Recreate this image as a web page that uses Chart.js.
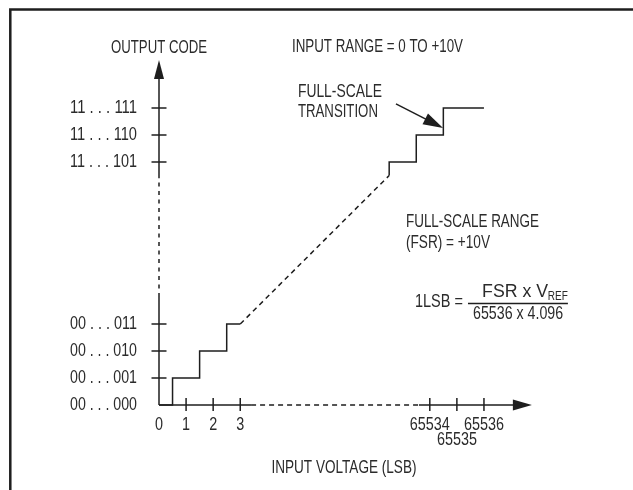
<!DOCTYPE html>
<html>
<head>
<meta charset="utf-8">
<script src="https://cdn.jsdelivr.net/npm/chart.js@4"></script>
<style>
  html, body { margin: 0; padding: 0; background: #fff; }
  #chart { display: block; }
</style>
</head>
<body>
<canvas id="chart" width="633" height="490"></canvas>
<script>
// transfer function values, in axis steps (1 step = 1 LSB / 1 code)
const xTickValues = [0, 1, 2, 3, 10, 11, 12];
const xTickLabels = ['0', '1', '2', '3', '65534', '65535', '65536'];
const xTickRows = [0, 0, 0, 0, 0, 1, 0];
const yTickValues = [0, 1, 2, 3, 9, 10, 11];
const yTickLabels = ['00 . . . 000', '00 . . . 001', '00 . . . 010', '00 . . . 011', '11 . . . 101', '11 . . . 110', '11 . . . 111'];

const lowSteps = [{x: 0, y: 0}, {x: 0.5, y: 1}, {x: 1.5, y: 2}, {x: 2.5, y: 3}, {x: 3, y: 3}];
const highSteps = [{x: 8.5, y: 8.5}, {x: 8.5, y: 9}, {x: 9.5, y: 10}, {x: 10.5, y: 11}, {x: 12, y: 11}];
const ramp = [{x: 3, y: 3}, {x: 8.5, y: 8.5}];

const yAxisSolidLow = [{x: 0, y: 0}, {x: 0, y: 4}];
const yAxisDashed = [{x: 0, y: 4}, {x: 0, y: 8.4}];
const yAxisSolidHigh = [{x: 0, y: 8.4}, {x: 0, y: 12.1}];
const xAxisSolidLow = [{x: 0, y: 0}, {x: 3.4, y: 0}];
const xAxisDashed = [{x: 3.4, y: 0}, {x: 9.6, y: 0}];
const xAxisSolidHigh = [{x: 9.6, y: 0}, {x: 13.1, y: 0}];

const yArrowTip = {x: 0, y: 12.78};
const xArrowTip = {x: 13.77, y: 0};
const transitionArrow = [{x: 8.75, y: 11.15}, {x: 10.49, y: 10.26}];

// placement of the diagram on the canvas
const X_ORIGIN = 159, X_UNIT = 27.08, Y_ORIGIN = 405, Y_UNIT = 27;
const W = 633, H = 490;
const INK = '#1e1e1e';
const TEXT = '#2b2b2b';
const FONT = '"Liberation Sans Narrow", "Liberation Sans", sans-serif';

const notes = [
    {text: 'OUTPUT CODE', x: 0, y: 13.21, align: 'center', w: 96},
    {text: 'INPUT RANGE = 0 TO +10V', x: 4.91, y: 13.27, align: 'left', w: 171},
    {text: 'FULL-SCALE', x: 5.13, y: 11.59, align: 'left', w: 84},
    {text: 'TRANSITION', x: 5.13, y: 10.85, align: 'left', w: 80},
    {text: 'FULL-SCALE RANGE', x: 9.12, y: 6.78, align: 'left', w: 133},
    {text: '(FSR) = +10V', x: 9.12, y: 6.0, align: 'left', w: 84},
    {text: '1LSB =', x: 9.45, y: 3.81, align: 'left', w: 48},
    {text: 'FSR x V', x: 11.93, y: 4.2, align: 'left', w: 66},
    {text: 'REF', x: 14.36, y: 4.02, align: 'left', w: 20, size: 13},
    {text: '65536 x 4.096', x: 13.26, y: 3.37, align: 'center', w: 90},
    {text: 'INPUT VOLTAGE (LSB)', x: 6.83, y: -2.33, align: 'center', w: 145}
];
const fractionBar = [{x: 11.41, y: 3.76}, {x: 15.1, y: 3.76}];

function line(data, dash) {
    return {
        data: data,
        showLine: true,
        borderColor: INK,
        borderWidth: 1.5,
        borderDash: dash || [],
        pointRadius: 0,
        fill: false
    };
}

const lowSet = line(lowSteps);
lowSet.stepped = 'before';
const highSet = line(highSteps);
highSet.stepped = 'before';

// squeeze text horizontally to the condensed width of the original lettering
function fitText(ctx, text, x, y, w) {
    const natural = ctx.measureText(text).width;
    const s = Math.min(1, w / natural);
    ctx.save();
    ctx.translate(x, y);
    ctx.scale(s, 1);
    ctx.fillText(text, 0, 0);
    ctx.restore();
}

const diagram = {
    id: 'diagram',
    beforeDraw(c) {
        const ctx = c.ctx;
        ctx.save();
        ctx.fillStyle = '#fff';
        ctx.fillRect(0, 0, W, H);
        ctx.strokeStyle = INK;
        ctx.lineWidth = 2.5;
        ctx.strokeRect(10.3, 9.5, W + 20, H + 20);
        ctx.restore();
    },
    afterDatasetsDraw(c) {
        const ctx = c.ctx;
        const px = v => c.scales.x.getPixelForValue(v);
        const py = v => c.scales.y.getPixelForValue(v);
        ctx.save();
        ctx.strokeStyle = INK;
        ctx.fillStyle = INK;
        ctx.lineWidth = 1.5;

        // tick marks
        yTickValues.forEach(v => {
            if (v === 0) return;
            ctx.beginPath();
            ctx.moveTo(px(0) - 7.5, py(v));
            ctx.lineTo(px(0) + 7.5, py(v));
            ctx.stroke();
        });
        xTickValues.forEach(v => {
            if (v === 0) return;
            ctx.beginPath();
            ctx.moveTo(px(v), py(0) - 7);
            ctx.lineTo(px(v), py(0) + 6);
            ctx.stroke();
        });

        // arrow heads
        ctx.beginPath();
        ctx.moveTo(px(yArrowTip.x), py(yArrowTip.y));
        ctx.lineTo(px(yArrowTip.x) - 5, py(yArrowTip.y) + 19);
        ctx.lineTo(px(yArrowTip.x) + 5, py(yArrowTip.y) + 19);
        ctx.closePath();
        ctx.fill();
        ctx.beginPath();
        ctx.moveTo(px(xArrowTip.x), py(xArrowTip.y));
        ctx.lineTo(px(xArrowTip.x) - 19, py(xArrowTip.y) - 5.5);
        ctx.lineTo(px(xArrowTip.x) - 19, py(xArrowTip.y) + 5.5);
        ctx.closePath();
        ctx.fill();

        // full-scale transition pointer
        const ax = px(transitionArrow[0].x), ay = py(transitionArrow[0].y);
        const bx = px(transitionArrow[1].x), by = py(transitionArrow[1].y);
        const len = Math.hypot(bx - ax, by - ay);
        const ux = (bx - ax) / len, uy = (by - ay) / len;
        ctx.beginPath();
        ctx.moveTo(ax, ay);
        ctx.lineTo(bx - ux * 15, by - uy * 15);
        ctx.stroke();
        ctx.beginPath();
        ctx.moveTo(bx, by);
        ctx.lineTo(bx - ux * 20 - uy * 6, by - uy * 20 + ux * 6);
        ctx.lineTo(bx - ux * 20 + uy * 6, by - uy * 20 - ux * 6);
        ctx.closePath();
        ctx.fill();

        // fraction bar
        ctx.beginPath();
        ctx.moveTo(px(fractionBar[0].x), py(fractionBar[0].y));
        ctx.lineTo(px(fractionBar[1].x), py(fractionBar[1].y));
        ctx.stroke();

        // texts
        ctx.fillStyle = TEXT;
        ctx.textBaseline = 'middle';
        ctx.font = '18px ' + FONT;
        ctx.textAlign = 'right';
        yTickValues.forEach((v, i) => {
            fitText(ctx, yTickLabels[i], px(0) - 22, py(v), 67);
        });
        ctx.textAlign = 'center';
        xTickValues.forEach((v, i) => {
            const t = xTickLabels[i];
            fitText(ctx, t, px(v), py(0) + 20 + xTickRows[i] * 15, t.length * 8);
        });
        notes.forEach(n => {
            ctx.font = (n.size || 18) + 'px ' + FONT;
            ctx.textAlign = n.align;
            fitText(ctx, n.text, px(n.x), py(n.y), n.w);
        });
        ctx.restore();
    }
};

let chart = new Chart(document.querySelector('#chart'), {
    type: 'scatter',
    data: {
        datasets: [
            line(yAxisSolidLow),
            line(yAxisDashed, [4, 4.5]),
            line(yAxisSolidHigh),
            line(xAxisSolidLow),
            line(xAxisDashed, [5, 4]),
            line(xAxisSolidHigh),
            lowSet,
            line(ramp, [5, 4]),
            highSet
        ]
    },
    options: {
        responsive: false,
        animation: false,
        layout: { padding: 0 },
        plugins: { legend: { display: false }, tooltip: { enabled: false } },
        scales: {
            x: {
                type: 'linear', display: false,
                min: -X_ORIGIN / X_UNIT, max: (W - X_ORIGIN) / X_UNIT
            },
            y: {
                type: 'linear', display: false,
                min: (Y_ORIGIN - H) / Y_UNIT, max: Y_ORIGIN / Y_UNIT
            }
        }
    },
    plugins: [diagram]
});
</script>
</body>
</html>
